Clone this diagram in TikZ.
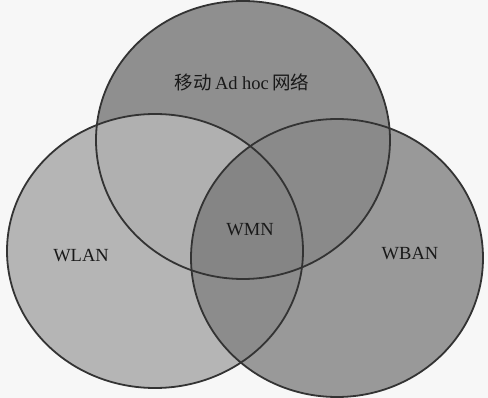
\documentclass[tikz,border=0pt]{standalone}
\usepackage{fontspec}
\setmainfont{Liberation Serif}
\newfontfamily\cjk{Noto Sans CJK SC}
\begin{document}
\begin{tikzpicture}[x=1pt,y=-1pt,
  lab/.style={font=\fontsize{18.5}{18.5}\selectfont, text=black!90},
  ring/.style={draw=black!80, line width=1.8pt}]
\useasboundingbox (0,0) rectangle (488,398);
\fill[white!97!black] (0,0) rectangle (488,398);
\def\topE{(243,140) ellipse [x radius=147, y radius=139]}
\def\leftE{(155,251) ellipse [x radius=148, y radius=137]}
\def\rightE{(337,258) ellipse [x radius=146, y radius=139]}
% single regions
\fill[black!29] \leftE;
\fill[black!40] \rightE;
\fill[black!44] \topE;
% pairwise
\begin{scope}\clip \topE; \fill[black!31] \leftE; \end{scope}
\begin{scope}\clip \topE; \fill[black!46] \rightE; \end{scope}
\begin{scope}\clip \leftE; \fill[black!45] \rightE; \end{scope}
\begin{scope}\clip \topE; \clip \leftE; \fill[black!48] \rightE; \end{scope}
% outlines
\draw[ring] \topE;
\draw[ring] \leftE;
\draw[ring] \rightE;
\node[lab] (adhoc) at (242,82) {{\cjk 移动}\,Ad hoc\,{\cjk 网络}};
\node[lab] (wmn) at (250,230) {WMN};
\node[lab] (wlan) at (81,256) {WLAN};
\node[lab] (wban) at (410,254) {WBAN};
\end{tikzpicture}
\end{document}
